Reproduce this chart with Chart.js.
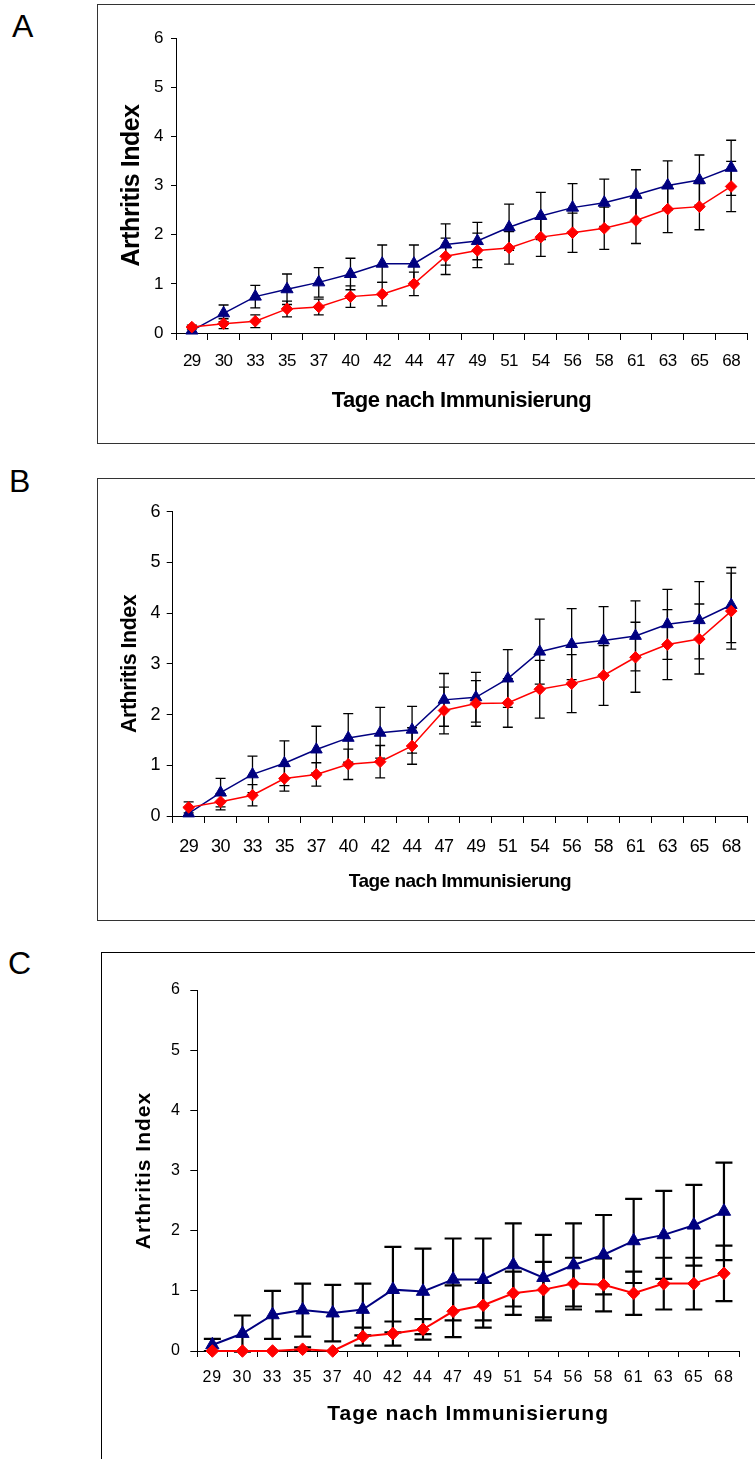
<!DOCTYPE html>
<html>
<head>
<meta charset="utf-8">
<script src="https://cdn.jsdelivr.net/npm/chart.js@4/dist/chart.umd.min.js"></script>
<style>
  body { margin: 0; width: 755px; height: 1459px; background: #fff; position: relative; overflow: hidden; font-family: 'Liberation Sans', Arial, sans-serif; }
  .box { position: absolute; box-sizing: border-box; }
  .lbl { position: absolute; font-size: 32px; line-height: 32px; color: #000; }
  canvas { position: absolute; }
</style>
</head>
<body>
<div class="box" style="left:97px;top:4px;width:700px;height:440px;border:1.5px solid #333"></div>
<div class="box" style="left:97px;top:478px;width:700px;height:443px;border:1.5px solid #333"></div>
<div class="box" style="left:101px;top:952px;width:700px;height:600px;border:1px solid #000"></div>
<div class="lbl" style="left:12px;top:10px">A</div>
<div class="lbl" style="left:9px;top:465px">B</div>
<div class="lbl" style="left:8px;top:947px">C</div>
<canvas id="chartA" width="655" height="420" style="left:100px;top:20px"></canvas>
<canvas id="chartB" width="655" height="425" style="left:100px;top:490px"></canvas>
<canvas id="chartC" width="655" height="489" style="left:100px;top:970px"></canvas>
<script>
// days after immunisation (x categories)
const days = ['29', '30', '33', '35', '37', '40', '42', '44', '47', '49', '51', '54', '56', '58', '61', '63', '65', '68']
const yTicks = [0, 1, 2, 3, 4, 5, 6]

// panel A
const aBlue = [0.05, 0.4, 0.74, 0.89, 1.03, 1.2, 1.41, 1.41, 1.8, 1.87, 2.15, 2.38, 2.55, 2.65, 2.81, 3.0, 3.11, 3.36]
const aBlueErr = [0, 0.17, 0.23, 0.31, 0.3, 0.32, 0.38, 0.38, 0.42, 0.38, 0.47, 0.48, 0.49, 0.48, 0.51, 0.5, 0.51, 0.56]
const aRed = [0.12, 0.19, 0.24, 0.49, 0.53, 0.74, 0.79, 1.0, 1.56, 1.68, 1.73, 1.95, 2.04, 2.13, 2.29, 2.52, 2.57, 2.98]
const aRedErr = [0.04, 0.1, 0.13, 0.16, 0.16, 0.22, 0.24, 0.24, 0.37, 0.35, 0.33, 0.39, 0.4, 0.43, 0.47, 0.48, 0.47, 0.51]

// panel B
const bBlue = [0.05, 0.46, 0.82, 1.04, 1.31, 1.54, 1.64, 1.7, 2.29, 2.34, 2.71, 3.24, 3.39, 3.46, 3.55, 3.78, 3.86, 4.16]
const bBlueErr = [0, 0.28, 0.36, 0.44, 0.46, 0.48, 0.5, 0.46, 0.52, 0.49, 0.57, 0.64, 0.7, 0.67, 0.69, 0.69, 0.76, 0.74]
const bRed = [0.17, 0.28, 0.41, 0.74, 0.82, 1.02, 1.07, 1.38, 2.08, 2.22, 2.23, 2.5, 2.61, 2.77, 3.13, 3.38, 3.49, 4.04]
const bRedErr = [0.11, 0.16, 0.21, 0.25, 0.23, 0.3, 0.32, 0.36, 0.46, 0.45, 0.48, 0.57, 0.57, 0.59, 0.69, 0.69, 0.69, 0.75]

// panel C
const cBlue = [0.1, 0.29, 0.6, 0.68, 0.63, 0.69, 1.02, 0.99, 1.19, 1.19, 1.43, 1.22, 1.43, 1.6, 1.83, 1.93, 2.09, 2.32]
const cBlueErr = [0.1, 0.3, 0.4, 0.44, 0.47, 0.43, 0.71, 0.71, 0.68, 0.68, 0.69, 0.71, 0.69, 0.66, 0.7, 0.73, 0.67, 0.81]
const cRed = [0, 0, 0, 0.03, 0, 0.24, 0.29, 0.36, 0.66, 0.76, 0.96, 1.02, 1.12, 1.1, 0.96, 1.12, 1.12, 1.29]
const cRedErr = [0, 0, 0, 0.03, 0, 0.15, 0.2, 0.17, 0.43, 0.37, 0.36, 0.46, 0.43, 0.44, 0.36, 0.43, 0.43, 0.46]

const yTitle = 'Arthritis Index'
const xTitle = 'Tage nach Immunisierung'
const family = "'Liberation Sans', Arial, sans-serif"

Chart.defaults.font.family = family
Chart.defaults.color = '#000'

// black error bars, drawn under the markers
const errorBars = {
	id: 'errorBars',
	beforeDatasetsDraw(chart, args, opts) {
		const ctx = chart.ctx
		const y = chart.scales.y
		ctx.save()
		ctx.strokeStyle = '#000'
		ctx.lineWidth = opts.width
		chart.data.datasets.forEach((ds, i) => {
			chart.getDatasetMeta(i).data.forEach((pt, j) => {
				const e = ds.errors[j]
				if (!e) return
				const top = y.getPixelForValue(ds.data[j] + e)
				const bot = y.getPixelForValue(ds.data[j] - e)
				ctx.beginPath()
				ctx.moveTo(pt.x, top)
				ctx.lineTo(pt.x, bot)
				ctx.moveTo(pt.x - opts.cap, top)
				ctx.lineTo(pt.x + opts.cap, top)
				ctx.moveTo(pt.x - opts.cap, bot)
				ctx.lineTo(pt.x + opts.cap, bot)
				ctx.stroke()
			})
		})
		ctx.restore()
	},
}

// Excel text is a bit squeezed (A, B) or stretched (C)
const spacing = {
	id: 'spacing',
	beforeDraw(chart, args, opts) {
		chart.ctx.letterSpacing = opts.value
	},
	afterDraw(chart) {
		chart.ctx.letterSpacing = '0px'
	},
}

function panel(id, p) {
	return new Chart(document.getElementById(id), {
		type: 'line',
		plugins: [errorBars, spacing],
		data: {
			labels: days,
			datasets: [
				{
					data: p.red,
					errors: p.redErr,
					order: 0,
					borderColor: '#ff0000',
					backgroundColor: '#ff0000',
					borderWidth: p.line,
					pointStyle: 'rectRot',
					pointRadius: p.diaR,
					pointBorderWidth: 1,
					tension: 0,
					clip: false,
				},
				{
					data: p.blue,
					errors: p.blueErr,
					order: 1,
					borderColor: '#000080',
					backgroundColor: '#000080',
					borderWidth: p.line,
					pointStyle: 'triangle',
					pointRadius: p.triR,
					pointBorderWidth: 1,
					tension: 0,
					clip: false,
				},
			],
		},
		options: {
			responsive: false,
			animation: false,
			events: [],
			layout: { padding: { top: p.top, right: p.right, left: 0, bottom: 0 } },
			plugins: {
				legend: { display: false },
				tooltip: { enabled: false },
				errorBars: { width: p.errW, cap: p.cap },
				spacing: { value: p.ls },
			},
			scales: {
				x: {
					offset: true,
					grid: { offset: true, drawOnChartArea: false, tickLength: p.xTick, color: '#000', lineWidth: 1 },
					border: { color: '#000', width: 1 },
					ticks: { autoSkip: false, maxRotation: 0, minRotation: 0, padding: p.xPad, color: '#000', font: { size: p.tick } },
					title: { display: true, text: xTitle, color: '#000', font: { size: p.xTitle, weight: 'bold' }, padding: { top: 0, bottom: p.xTitlePad } },
					afterFit(s) {
						s.height = p.xH
						s.paddingLeft = 0
						s.paddingRight = 0
					},
				},
				y: {
					min: 0,
					max: 6,
					afterBuildTicks(s) {
						s.ticks = yTicks.map(v => ({ value: v }))
					},
					grid: { drawOnChartArea: false, tickLength: p.yTick, color: '#000', lineWidth: 1 },
					border: { color: '#000', width: 1 },
					ticks: { padding: p.yPad, color: '#000', font: { size: p.tick } },
					title: { display: true, text: yTitle, color: '#000', font: { size: p.yTitle, weight: 'bold' }, padding: { top: p.yTitlePad, bottom: 0 } },
					afterFit(s) {
						s.width = p.yW
						s.paddingTop = 0
						s.paddingBottom = 0
					},
				},
			},
		},
	})
}

panel('chartA', {
	blue: aBlue, blueErr: aBlueErr, red: aRed, redErr: aRedErr,
	top: 18, right: 6, yW: 76, xH: 107,
	tick: 17, xTick: 7, xPad: 11, yTick: 5, yPad: 8,
	yTitle: 25, yTitlePad: 17.5, xTitle: 22, xTitlePad: 25.8,
	line: 1.5, errW: 1.3, cap: 5, triR: 7, diaR: 5.8, ls: '-0.5px',
})

panel('chartB', {
	blue: bBlue, blueErr: bBlueErr, red: bRed, redErr: bRedErr,
	top: 21.7, right: 3, yW: 72.7, xH: 99,
	tick: 18, xTick: 7, xPad: 12.9, yTick: 6, yPad: 6.7,
	yTitle: 21.5, yTitlePad: 16.8, xTitle: 19, xTitlePad: 22.3,
	line: 1.5, errW: 1.3, cap: 5, triR: 6.8, diaR: 5.8, ls: '-0.5px',
})

panel('chartC', {
	blue: cBlue, blueErr: cBlueErr, red: cRed, redErr: cRedErr,
	top: 20, right: 16, yW: 97.3, xH: 108,
	tick: 16, xTick: 6, xPad: 11.4, yTick: 7, yPad: 9.3,
	yTitle: 21, yTitlePad: 31.7, xTitle: 21, xTitlePad: 32.4,
	line: 2, errW: 2.2, cap: 8.5, triR: 7.7, diaR: 6.3, ls: '1px',
})
</script>
</body>
</html>
